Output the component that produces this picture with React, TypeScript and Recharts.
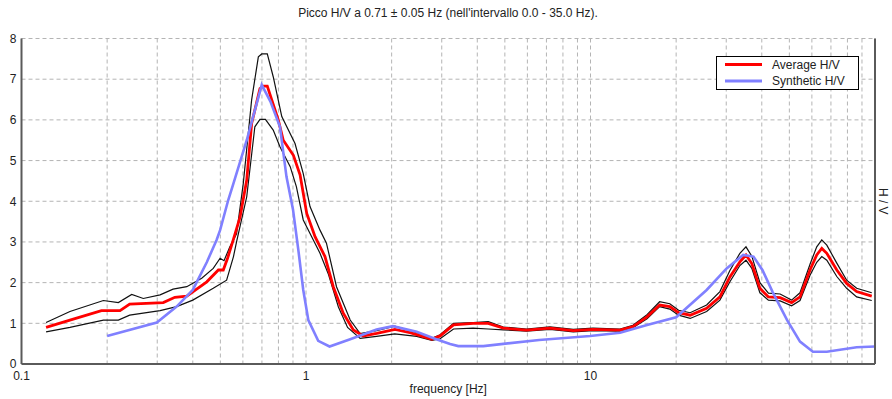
import React from 'react';
import { LineChart, Line, XAxis, YAxis, CartesianGrid } from 'recharts';

// Average H/V curve
const avgFreq = [0.122, 0.148, 0.191, 0.222, 0.24, 0.315, 0.346, 0.381, 0.448, 0.492, 0.512, 0.53, 0.555, 0.586, 0.619, 0.644, 0.689, 0.708, 0.731, 0.799, 0.832, 0.903, 0.953, 1.006, 1.076, 1.166, 1.247, 1.352, 1.467, 1.59, 1.773, 2.055, 2.32, 2.77, 2.96, 3.3, 3.87, 4.37, 4.94, 5.96, 7.2, 8.7, 10.2, 12.7, 14.1, 15.8, 17.5, 19.0, 20.4, 22.4, 25.6, 28.5, 30.9, 33.5, 35.2, 36.9, 39.4, 42.2, 46.4, 50.9, 54.5, 59.1, 62.4, 65, 67.7, 73.4, 79.5, 86.2, 97.4];
const avgHV = [0.9, 1.08, 1.31, 1.31, 1.47, 1.51, 1.64, 1.67, 2.02, 2.31, 2.31, 2.6, 3.05, 3.6, 4.52, 5.91, 6.77, 6.83, 6.83, 6.0, 5.5, 5.13, 4.65, 3.7, 3.13, 2.64, 1.9, 1.25, 0.835, 0.69, 0.75, 0.85, 0.77, 0.61, 0.69, 0.96, 1.0, 1.0, 0.88, 0.835, 0.88, 0.82, 0.85, 0.835, 0.92, 1.16, 1.45, 1.41, 1.26, 1.2, 1.37, 1.65, 2.14, 2.51, 2.68, 2.47, 1.86, 1.65, 1.63, 1.51, 1.65, 2.31, 2.68, 2.84, 2.72, 2.31, 1.98, 1.78, 1.67];

// Upper standard-deviation bound
const upperFreq = [0.122, 0.148, 0.194, 0.219, 0.244, 0.268, 0.307, 0.341, 0.381, 0.43, 0.472, 0.499, 0.515, 0.54, 0.57, 0.602, 0.644, 0.68, 0.699, 0.731, 0.767, 0.822, 0.915, 0.978, 1.033, 1.12, 1.18, 1.28, 1.43, 1.55, 1.77, 2.05, 2.45, 2.77, 2.96, 3.3, 3.87, 4.37, 4.94, 5.96, 7.2, 8.7, 10.2, 12.7, 14.1, 15.8, 17.5, 19.0, 20.4, 22.4, 25.6, 28.5, 30.9, 33.5, 35.2, 36.9, 39.4, 42.2, 46.4, 50.9, 54.5, 59.1, 62.4, 65, 67.7, 73.4, 79.5, 86.2, 97.4];
const upperHV = [1.02, 1.29, 1.56, 1.51, 1.71, 1.61, 1.7, 1.84, 1.9, 2.11, 2.35, 2.6, 2.54, 2.88, 3.2, 4.44, 6.49, 7.55, 7.62, 7.62, 7.06, 6.08, 5.42, 4.68, 3.87, 3.29, 2.97, 1.9, 1.08, 0.75, 0.82, 0.93, 0.77, 0.63, 0.72, 1.0, 1.02, 1.04, 0.91, 0.86, 0.91, 0.85, 0.88, 0.86, 0.95, 1.21, 1.53, 1.48, 1.32, 1.26, 1.45, 1.78, 2.3, 2.72, 2.88, 2.65, 2.0, 1.74, 1.72, 1.57, 1.75, 2.45, 2.88, 3.05, 2.92, 2.48, 2.06, 1.86, 1.75];

// Lower standard-deviation bound
const lowerFreq = [0.122, 0.148, 0.194, 0.219, 0.24, 0.307, 0.351, 0.4, 0.472, 0.526, 0.556, 0.57, 0.619, 0.661, 0.689, 0.72, 0.767, 0.81, 0.88, 0.925, 0.978, 1.12, 1.2, 1.3, 1.4, 1.55, 1.77, 2.05, 2.45, 2.77, 2.96, 3.3, 3.87, 4.37, 4.94, 5.96, 7.2, 8.7, 10.2, 12.7, 14.1, 15.8, 17.5, 19.0, 20.4, 22.4, 25.6, 28.5, 30.9, 33.5, 35.2, 36.9, 39.4, 42.2, 46.4, 50.9, 54.5, 59.1, 62.4, 65, 67.7, 73.4, 79.5, 86.2, 97.4];
const lowerHV = [0.79, 0.9, 1.08, 1.08, 1.2, 1.31, 1.41, 1.57, 1.86, 2.06, 2.64, 3.0, 4.11, 5.83, 6.01, 6.01, 5.75, 5.34, 4.85, 4.36, 3.54, 2.72, 2.2, 1.4, 0.9, 0.63, 0.68, 0.74, 0.68, 0.58, 0.62, 0.86, 0.88, 0.86, 0.84, 0.81, 0.85, 0.79, 0.82, 0.81, 0.89, 1.11, 1.41, 1.35, 1.2, 1.12, 1.29, 1.57, 2.02, 2.42, 2.55, 2.35, 1.75, 1.57, 1.55, 1.43, 1.56, 2.18, 2.5, 2.64, 2.55, 2.15, 1.86, 1.65, 1.56];

// Synthetic H/V curve
const synFreq = [0.2, 0.299, 0.351, 0.4, 0.448, 0.485, 0.499, 0.533, 0.556, 0.619, 0.699, 0.75, 0.81, 0.854, 0.9, 0.94, 0.978, 1.019, 1.104, 1.21, 1.43, 1.77, 2.02, 2.45, 2.87, 3.21, 3.43, 4.2, 6.6, 9.97, 12.7, 15.8, 20, 25.6, 30.1, 34.4, 37.4, 40.2, 43.6, 49.1, 54.5, 60.5, 67.7, 86.2, 100];
const synHV = [0.69, 1.02, 1.41, 1.82, 2.5, 3.05, 3.29, 4.03, 4.44, 5.5, 6.86, 6.45, 5.83, 4.6, 3.8, 2.8, 1.82, 1.08, 0.57, 0.43, 0.61, 0.85, 0.93, 0.79, 0.61, 0.49, 0.44, 0.44, 0.59, 0.69, 0.77, 0.96, 1.15, 1.82, 2.35, 2.68, 2.64, 2.31, 1.78, 1.08, 0.55, 0.3, 0.3, 0.41, 0.43];

const freqTicks = [0.1, 0.2, 0.3, 0.4, 0.5, 0.6, 0.7, 0.8, 0.9, 1, 2, 3, 4, 5, 6, 7, 8, 9, 10, 20, 30, 40, 50, 60, 70, 80, 90, 100];
const labeledFreqTicks = [0.1, 1, 10];
const hvTicks = [0, 1, 2, 3, 4, 5, 6, 7, 8];

const titleText = 'Picco H/V a 0.71 ± 0.05 Hz (nell\'intervallo 0.0 - 35.0 Hz).';
const legendItems = [
  { name: 'Average H/V', color: '#ff0000' },
  { name: 'Synthetic H/V', color: '#8080ff' },
];

const toPoints = (freq: number[], vals: number[]) => freq.map((f, i) => ({ f, v: vals[i] }));

const avgData = toPoints(avgFreq, avgHV);
const upperData = toPoints(upperFreq, upperHV);
const lowerData = toPoints(lowerFreq, lowerHV);
const synData = toPoints(synFreq, synHV);

const FONT = '"Liberation Sans", Arial, sans-serif';
const TEXT = '#222';

const FreqTick = (props: any) => {
  const { x, y, payload } = props;
  if (!labeledFreqTicks.includes(payload.value)) return null;
  return (
    <text x={x} y={y} dy="0.71em" textAnchor="middle" fontFamily={FONT} fontSize={12} fill={TEXT}>
      {payload.value}
    </text>
  );
};

export default function App() {
  const W = 892;
  const H = 399;
  return (
    <div style={{ position: 'absolute', left: 0, top: 0, width: W, height: H, background: '#fff' }}>
      <LineChart width={W} height={H} margin={{ top: 38.5, right: 0, bottom: 0, left: 0 }}>
        <CartesianGrid stroke="#b4b4b4" strokeDasharray="4 3" />
        <XAxis
          dataKey="f"
          type="number"
          scale="log"
          domain={[0.1, 100]}
          ticks={freqTicks}
          interval={0}
          allowDataOverflow
          height={35}
          tickLine={false}
          tickSize={0}
          tickMargin={7}
          tick={<FreqTick />}
          axisLine={{ stroke: '#5a5a5a', strokeWidth: 2 }}
          label={{ value: 'frequency [Hz]', position: 'insideBottom', offset: 6, fill: TEXT, fontSize: 12, fontFamily: FONT }}
        />
        <XAxis
          xAxisId="top"
          orientation="top"
          dataKey="f"
          type="number"
          scale="log"
          domain={[0.1, 100]}
          height={0}
          tick={false}
          tickLine={false}
          axisLine={{ stroke: '#5a5a5a', strokeWidth: 1.5 }}
        />
        <YAxis
          type="number"
          domain={[0, 8]}
          ticks={hvTicks}
          interval={0}
          width={21.5}
          tickLine={false}
          tickSize={0}
          tickMargin={5}
          tick={{ fill: TEXT, fontSize: 12, fontFamily: FONT }}
          axisLine={{ stroke: '#5a5a5a', strokeWidth: 2 }}
        />
        <YAxis
          yAxisId="right"
          orientation="right"
          type="number"
          domain={[0, 8]}
          width={17}
          tick={false}
          tickLine={false}
          axisLine={{ stroke: '#5a5a5a', strokeWidth: 2 }}
          label={{ value: 'H / V', angle: 90, position: 'center', dx: 0, fill: TEXT, fontSize: 12, fontFamily: FONT }}
        />
        <Line data={upperData} dataKey="v" type="linear" stroke="#111" strokeWidth={1.2} dot={false} isAnimationActive={false} />
        <Line data={lowerData} dataKey="v" type="linear" stroke="#111" strokeWidth={1.2} dot={false} isAnimationActive={false} />
        <Line data={avgData} dataKey="v" type="linear" stroke="#ff0000" strokeWidth={2.8} dot={false} isAnimationActive={false} />
        <Line data={synData} dataKey="v" type="linear" stroke="#8080ff" strokeWidth={2.6} dot={false} isAnimationActive={false} />
      </LineChart>
      <svg width={W} height={H} style={{ position: 'absolute', left: 0, top: 0, pointerEvents: 'none' }}>
        <text x={448} y={17} textAnchor="middle" fontFamily={FONT} fontSize={12} fill={TEXT}>
          {titleText}
        </text>
        <g transform="translate(716.5, 56.5)">
          <rect x={0} y={0} width={142} height={33} fill="#fff" stroke="#000" strokeWidth={1} />
          {legendItems.map((item, i) => (
            <g key={item.name} transform={`translate(0, ${8 + i * 16.5})`}>
              <line x1={8.5} x2={45.5} y1={0} y2={0} stroke={item.color} strokeWidth={3} />
              <text x={55.5} y={4.2} fontFamily={FONT} fontSize={12} fill={TEXT}>
                {item.name}
              </text>
            </g>
          ))}
        </g>
      </svg>
    </div>
  );
}
